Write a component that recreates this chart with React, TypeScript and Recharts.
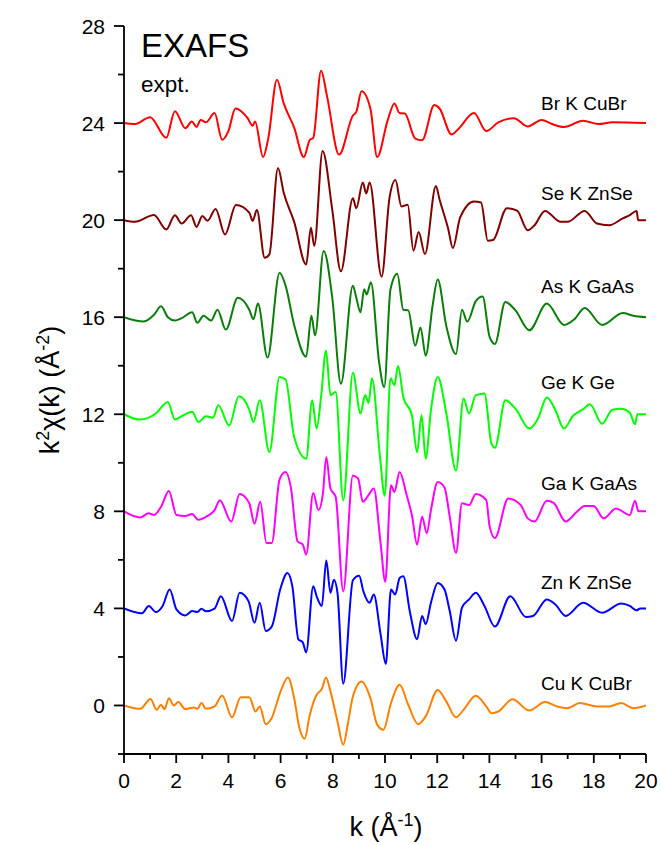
import { LineChart, Line, XAxis, YAxis } from "recharts"

// k grid and y grid (major ticks get labels)
const K_TICKS = [0, 1, 2, 3, 4, 5, 6, 7, 8, 9, 10, 11, 12, 13, 14, 15, 16, 17, 18, 19, 20]
const Y_TICKS = [-2, 0, 2, 4, 6, 8, 10, 12, 14, 16, 18, 20, 22, 24, 26, 28]

// [k, k^2 chi(k)], each trace already offset
const BR_CUBR = [
  [0, 24], [0.42, 23.96], [1.0, 24.24], [1.62, 23.39], [1.95, 24.49], [2.35, 23.79], [2.6, 24.06],
  [2.78, 23.84], [2.94, 24.13], [3.14, 24.03], [3.47, 24.41], [3.76, 23.31], [4.0, 23.67], [4.27, 24.6],
  [4.73, 24.21], [4.93, 23.89], [5.02, 24.06], [5.33, 22.6], [5.53, 23.39], [5.86, 25.79], [6.12, 24.81],
  [6.52, 23.81], [6.89, 22.6], [7.12, 23.31], [7.25, 23.39], [7.55, 26.16], [7.78, 25.1], [8.24, 22.7],
  [8.77, 24.31], [8.9, 24.46], [9.1, 25.31], [9.44, 24.6], [9.7, 22.6], [10.1, 24.1], [10.36, 24.81],
  [10.56, 24.41], [10.76, 24.39], [11.16, 23.36], [11.42, 23.29], [11.89, 24.74], [12.09, 24.6],
  [12.55, 23.53], [12.82, 23.77], [13.41, 24.41], [13.88, 23.67], [14.34, 24.03], [14.94, 24.2],
  [15.47, 23.86], [16.0, 24.13], [16.4, 23.96], [16.86, 23.84], [17.59, 24.1], [18.18, 23.96],
  [18.71, 24.03], [20, 24],
]

const SE_ZNSE = [
  [0, 20], [0.42, 19.93], [1.15, 20.21], [1.62, 19.61], [1.95, 20.2], [2.21, 19.86], [2.57, 20.2],
  [2.78, 19.72], [3.0, 20.17], [3.2, 19.97], [3.51, 20.46], [3.87, 19.41], [4.29, 20.62], [4.8, 20.31],
  [4.93, 19.97], [5.09, 20.42], [5.39, 18.45], [5.57, 18.59], [5.9, 22.15], [6.12, 21.13], [6.52, 19.93],
  [6.98, 18.17], [7.16, 19.69], [7.29, 18.94], [7.61, 22.85], [7.98, 20.42], [8.31, 17.89], [8.77, 20.9],
  [8.9, 20.49], [9.15, 21.55], [9.28, 21.1], [9.41, 21.55], [9.87, 17.67], [10.17, 20.9], [10.4, 21.65],
  [10.63, 20.56], [10.87, 20.63], [11.09, 18.74], [11.29, 19.51], [11.53, 18.6], [11.95, 21.41],
  [12.09, 20.85], [12.42, 19.65], [12.6, 18.85], [12.88, 20.11], [13.41, 20.77], [13.68, 20.73],
  [13.94, 19.15], [14.14, 19.18], [14.67, 20.49], [15.06, 20.39], [15.47, 19.58], [15.73, 19.79],
  [16.13, 20.38], [16.73, 19.93], [16.99, 19.93], [17.65, 20.38], [18.12, 19.86], [18.58, 19.79],
  [19.11, 20.07], [19.38, 20.21], [19.64, 20.38], [19.7, 20], [20, 20],
]

const AS_GAAS = [
  [0, 16], [0.76, 15.82], [1.15, 16.1], [1.42, 16.45], [1.68, 16], [1.95, 15.86], [2.21, 15.96],
  [2.61, 16.2], [2.81, 15.77], [3.05, 16.06], [3.34, 15.86], [3.58, 16.31], [3.9, 15.49], [4.36, 16.8],
  [4.8, 16.31], [4.96, 15.92], [5.13, 16.56], [5.5, 14.34], [5.96, 17.83], [6.19, 17.3], [6.52, 15.68],
  [6.98, 14.37], [7.18, 16.06], [7.32, 15.25], [7.65, 18.73], [7.98, 16.8], [8.31, 13.26], [8.77, 17.3],
  [8.9, 16.8], [9.06, 16.2], [9.2, 17.15], [9.3, 16.94], [9.46, 17.44], [9.77, 14.18], [9.97, 13.12],
  [10.21, 17.15], [10.47, 17.79], [10.7, 16.31], [10.89, 16.28], [11.16, 14.83], [11.36, 15.58],
  [11.56, 14.41], [11.82, 16.45], [12.02, 17.55], [12.35, 15.63], [12.72, 14.48], [12.95, 16.31],
  [13.15, 15.82], [13.48, 16.66], [13.74, 16.85], [14.01, 15.18], [14.21, 14.9], [14.61, 16.63],
  [15.0, 16.28], [15.53, 15.46], [16.2, 16.56], [16.86, 15.68], [17.26, 15.92], [17.65, 16.38],
  [18.32, 15.68], [19.11, 16.17], [19.51, 16.06], [20, 16],
]

const GE_GE = [
  [0, 12], [0.62, 11.78], [1.22, 12.03], [1.68, 12.51], [1.95, 11.78], [2.21, 11.92], [2.61, 12.1],
  [2.85, 11.68], [3.14, 11.92], [3.41, 11.86], [3.61, 12.37], [4.03, 11.54], [4.4, 12.74], [4.8, 12.19],
  [4.96, 11.68], [5.2, 12.58], [5.57, 10.44], [5.96, 13.54], [6.19, 13.43], [6.52, 11.06], [6.98, 10.17],
  [7.21, 12.58], [7.38, 11.41], [7.55, 12.72], [7.74, 14.62], [7.91, 12.79], [8.11, 12.92], [8.4, 8.45],
  [8.77, 13.71], [9.06, 12.03], [9.24, 12.79], [9.37, 12.47], [9.5, 13.48], [9.8, 10.34], [9.99, 8.64],
  [10.21, 13.48], [10.36, 13.2], [10.5, 13.99], [10.7, 12.72], [11.03, 11.96], [11.23, 10.44],
  [11.4, 11.96], [11.56, 10.17], [11.76, 12.17], [12.02, 13.54], [12.35, 12.03], [12.72, 9.68],
  [13.01, 12.65], [13.22, 12.03], [13.48, 12.79], [13.81, 12.86], [14.08, 10.79], [14.21, 10.62],
  [14.61, 12.58], [15.0, 12.23], [15.53, 11.41], [15.86, 11.82], [16.2, 12.69], [16.53, 12.17],
  [16.86, 11.41], [17.19, 11.92], [17.59, 12.21], [17.85, 12.41], [18.32, 11.61], [18.71, 12.19],
  [19.05, 12.23], [19.38, 12.06], [19.58, 11.59], [19.67, 12], [20, 12],
]

const GA_GAAS = [
  [0, 8], [0.62, 7.75], [0.95, 7.92], [1.15, 7.85], [1.42, 8.19], [1.72, 8.84], [2.01, 7.85],
  [2.35, 7.81], [2.61, 7.89], [2.84, 7.65], [3.2, 7.81], [3.47, 8.05], [3.67, 8.46], [4.11, 7.58],
  [4.43, 8.71], [4.8, 8.33], [5.0, 7.49], [5.22, 8.39], [5.46, 6.69], [5.66, 6.69], [5.96, 9.31],
  [6.19, 9.62], [6.39, 9.01], [6.65, 6.76], [6.85, 6.63], [6.98, 6.22], [7.25, 8.76], [7.45, 8.05],
  [7.62, 8.73], [7.75, 10.23], [7.91, 8.94], [8.11, 8.6], [8.4, 4.7], [8.77, 9.48], [8.97, 9.35],
  [9.15, 8.39], [9.37, 8.67], [9.57, 8.94], [9.83, 6.7], [10.01, 5.1], [10.23, 9.07], [10.36, 8.8],
  [10.56, 9.62], [10.83, 8.67], [11.03, 7.85], [11.23, 6.63], [11.42, 7.78], [11.6, 7.1], [11.76, 8.05],
  [12.02, 9.21], [12.28, 8.98], [12.48, 7.78], [12.72, 6.29], [12.95, 8.33], [13.22, 8.26], [13.48, 8.71],
  [13.88, 8.46], [14.01, 7.37], [14.21, 6.9], [14.72, 8.53], [15.2, 8.26], [15.47, 7.71], [15.73, 7.58],
  [16.2, 8.44], [16.46, 8.35], [16.92, 7.58], [17.32, 7.95], [17.65, 8.22], [17.99, 8.22], [18.38, 7.71],
  [18.85, 8.12], [19.38, 7.85], [19.58, 8.44], [19.71, 8], [20, 8],
]

const ZN_ZNSE = [
  [0, 4], [0.69, 3.8], [0.95, 4.1], [1.22, 3.85], [1.48, 4.1], [1.75, 4.78], [2.01, 3.96], [2.35, 3.71],
  [2.61, 3.89], [2.81, 3.85], [2.97, 3.99], [3.14, 3.88], [3.47, 3.99], [3.71, 4.5], [4.14, 3.48],
  [4.43, 4.64], [4.77, 4.3], [5.0, 3.41], [5.2, 4.23], [5.43, 3.07], [5.66, 3.25], [5.99, 4.8],
  [6.26, 5.46], [6.45, 4.91], [6.68, 2.73], [6.85, 2.6], [6.98, 2.19], [7.25, 4.91], [7.38, 4.5],
  [7.58, 4.1], [7.75, 5.97], [7.91, 4.64], [8.04, 5.18], [8.18, 4.64], [8.4, 0.9], [8.77, 5.16],
  [9.01, 5.35], [9.17, 4.71], [9.41, 4.23], [9.57, 4.57], [9.83, 2.94], [10.03, 1.71], [10.23, 4.78],
  [10.39, 4.57], [10.56, 5.25], [10.7, 5.32], [10.96, 3.82], [11.23, 2.73], [11.42, 3.69], [11.56, 3.35],
  [11.76, 4.23], [12.02, 5.05], [12.28, 4.78], [12.48, 3.89], [12.72, 2.67], [12.95, 4.03], [13.22, 4.37],
  [13.48, 4.64], [13.81, 4.1], [14.21, 3.25], [14.8, 4.5], [15.4, 3.65], [15.67, 3.69], [16.2, 4.37],
  [16.53, 4.16], [16.92, 3.69], [17.59, 4.23], [18.32, 3.82], [19.05, 4.2], [19.38, 4.1], [19.64, 3.92],
  [19.78, 4], [20, 4],
]

const CU_CUBR = [
  [0, 0], [0.62, -0.14], [1.02, 0.27], [1.25, -0.18], [1.42, 0.03], [1.55, -0.15], [1.72, 0.3],
  [1.91, 0], [2.08, 0.14], [2.35, -0.15], [2.68, -0.08], [2.81, -0.14], [2.97, 0.1], [3.14, -0.14],
  [3.47, -0.04], [3.76, 0.41], [4.14, -0.49], [4.47, 0.34], [4.8, 0.34], [5.04, -0.25], [5.2, -0.04],
  [5.43, -0.77], [5.66, -0.52], [5.99, 0.55], [6.28, 1.15], [6.52, 0.3], [6.72, -0.93], [6.92, -1.37],
  [7.12, -0.38], [7.38, 0.44], [7.58, 0.68], [7.74, 1.15], [7.91, 0.58], [8.18, -0.66], [8.4, -1.62],
  [8.58, -0.73], [8.77, 0.37], [9.1, 0.99], [9.44, 0.3], [9.7, -0.79], [9.94, -1.0], [10.23, 0.1],
  [10.56, 0.85], [10.89, 0.03], [11.27, -0.77], [11.56, -0.45], [12.02, 0.64], [12.35, 0.16],
  [12.72, -0.49], [13.01, -0.18], [13.48, 0.4], [13.88, -0.04], [14.08, -0.32], [14.34, -0.25],
  [14.88, 0.26], [15.53, -0.21], [16.13, 0.14], [16.59, -0.04], [16.99, -0.11], [17.46, 0.1],
  [18.12, -0.04], [18.58, -0.04], [19.05, 0.1], [19.51, -0.11], [20, 0],
]

const toRows = (pts: number[][]) => pts.map(([k, v]) => ({ k, v }))

const SERIES = [
  { name: "Cu K CuBr", color: "#ff8000", pts: CU_CUBR, labelY: 690 },
  { name: "Zn K ZnSe", color: "#0000ff", pts: ZN_ZNSE, labelY: 589 },
  { name: "Ga K GaAs", color: "#ff00ff", pts: GA_GAAS, labelY: 490 },
  { name: "Ge K Ge", color: "#00ff00", pts: GE_GE, labelY: 389 },
  { name: "As K GaAs", color: "#0a7d0a", pts: AS_GAAS, labelY: 293 },
  { name: "Se K ZnSe", color: "#800000", pts: SE_ZNSE, labelY: 200 },
  { name: "Br K CuBr", color: "#ff0000", pts: BR_CUBR, labelY: 110 },
]

const FONT = "'Liberation Sans', Arial, sans-serif"

function YTick(props: any) {
  const { x, y, payload } = props
  const major = payload.value % 4 === 0
  return (
    <g>
      <line x1={x - (major ? 10 : 6)} x2={x} y1={y} y2={y} stroke="#000" strokeWidth={1.8} />
      {major && (
        <text x={x - 19} y={y} dy={7.5} textAnchor="end" fontSize={21} fontFamily={FONT} fill="#000">
          {payload.value}
        </text>
      )}
    </g>
  )
}

function XTick(props: any) {
  const { x, y, payload } = props
  const major = payload.value % 2 === 0
  return (
    <g>
      <line x1={x} x2={x} y1={y} y2={y + (major ? 9 : 5)} stroke="#000" strokeWidth={1.8} />
      {major && (
        <text x={x} y={y + 34} textAnchor="middle" fontSize={21} fontFamily={FONT} fill="#000">
          {payload.value}
        </text>
      )}
    </g>
  )
}

export default function App() {
  return (
    <div style={{ position: "absolute", left: 0, top: 0, width: 661, height: 845, background: "#fff", fontFamily: FONT }}>
      <LineChart width={661} height={845} margin={{ top: 26, right: 15, bottom: 0, left: 0 }}>
        <XAxis
          type="number"
          dataKey="k"
          domain={[0, 20]}
          ticks={K_TICKS}
          interval={0}
          allowDataOverflow
          height={91}
          axisLine={{ stroke: "#000", strokeWidth: 1.8 }}
          tickLine={false}
          tickSize={0}
          tickMargin={0}
          tick={<XTick />}
        />
        <YAxis
          type="number"
          domain={[-2, 28]}
          ticks={Y_TICKS}
          interval={0}
          allowDataOverflow
          width={124}
          axisLine={{ stroke: "#000", strokeWidth: 1.8 }}
          tickLine={false}
          tickSize={0}
          tickMargin={0}
          tick={<YTick />}
        />
        {SERIES.map((s) => (
          <Line
            key={s.name}
            data={toRows(s.pts)}
            dataKey="v"
            type="monotone"
            stroke={s.color}
            strokeWidth={2}
            dot={false}
            activeDot={false}
            isAnimationActive={false}
          />
        ))}
      </LineChart>

      <svg width={661} height={845} style={{ position: "absolute", left: 0, top: 0, pointerEvents: "none" }}>
        <text x={141} y={57} fontSize={33} fontFamily={FONT} fill="#000">EXAFS</text>
        <text x={141} y={92} fontSize={22.5} fontFamily={FONT} fill="#000">expt.</text>
        {SERIES.map((s) => (
          <text key={s.name} x={541} y={s.labelY} fontSize={19} fontFamily={FONT} fill="#000">
            {s.name}
          </text>
        ))}
        <text transform="translate(59,390) rotate(-90)" textAnchor="middle" fontSize={27} fontFamily={FONT} fill="#000">
          k<tspan dy={-10} fontSize={18}>2</tspan>
          <tspan dy={10}>χ(k) (Å</tspan>
          <tspan dy={-10} fontSize={18}>-2</tspan>
          <tspan dy={10}>)</tspan>
        </text>
        <text x={386} y={836} textAnchor="middle" fontSize={27} fontFamily={FONT} fill="#000">
          k (Å<tspan dy={-10} fontSize={18}>-1</tspan>
          <tspan dy={10}>)</tspan>
        </text>
      </svg>
    </div>
  )
}
